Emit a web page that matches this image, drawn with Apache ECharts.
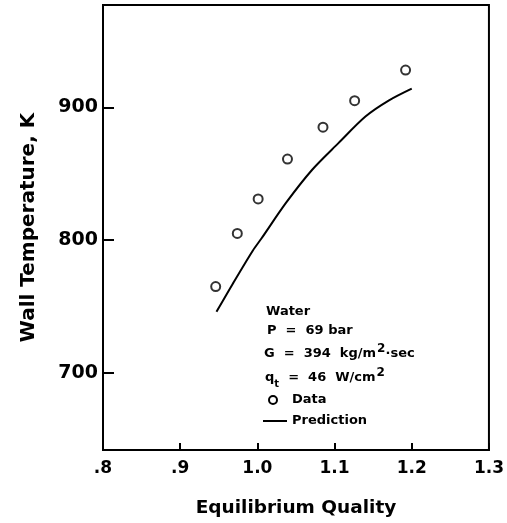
<!DOCTYPE html>
<html>
<head>
<meta charset="utf-8">
<script src="https://cdn.jsdelivr.net/npm/echarts@6/dist/echarts.min.js"></script>
<style>
  html, body { margin: 0; padding: 0; background: #fff; }
  #chart { width: 507px; height: 523px; }
</style>
</head>
<body>
<div id="chart"></div>
<script>
// measured data (circles)
const dataQuality = [0.946, 0.974, 1.001, 1.039, 1.085, 1.126, 1.192];
const dataTemp = [765, 805, 831, 861, 885, 905, 928];

// prediction curve
const predQuality = [0.947, 0.968, 0.994, 1.005, 1.037, 1.071, 1.105, 1.140, 1.170, 1.200];
const predTemp = [746, 767, 792, 801, 828, 853, 873, 893, 905, 914];

// ticks
const xTicks = [0.8, 0.9, 1.0, 1.1, 1.2, 1.3];
const xTickLabels = ['.8', '.9', '1.0', '1.1', '1.2', '1.3'];
const yTicks = [700, 800, 900];

// annotation block text
const noteLines = [
  '{a|Water}',
  '{a|P  =  69 bar}',
  '{a|G  =  394  kg/m}{sup|2}{a|·sec}',
  '{a|q}{sub|t}{a|  =  46  W/cm}{sup|2}',
  '{a|Data}',
  '{a|Prediction}'
];

const ink = '#000';
const font = 'DejaVu Sans';
const chart = echarts.init(document.getElementById('chart'));

const richStyle = {
  a: { fontFamily: font, fontWeight: 'bold', fontSize: 13, color: ink },
  sup: { fontFamily: font, fontWeight: 'bold', fontSize: 12, color: ink, verticalAlign: 'top', padding: [0, 0, 10, 1] },
  sub: { fontFamily: font, fontWeight: 'bold', fontSize: 10, color: ink, verticalAlign: 'bottom', padding: [6, 0, 0, 0] }
};
const noteTops = [305, 324, 343, 367, 393, 414];
const noteLefts = [266, 267, 264, 265, 292, 292];

const graphics = noteLines.map((t, i) => ({
  type: 'text',
  left: noteLefts[i],
  top: noteTops[i],
  style: { text: t, rich: richStyle }
}));
// legend symbols
graphics.push({
  type: 'circle',
  shape: { cx: 273, cy: 400, r: 4 },
  style: { fill: '#fff', stroke: ink, lineWidth: 2 }
});
graphics.push({
  type: 'line',
  shape: { x1: 263, y1: 421, x2: 287, y2: 421 },
  style: { stroke: ink, lineWidth: 2 }
});

chart.setOption({
  animation: false,
  grid: {
    left: 103, right: 16, top: 5, bottom: 73,
    show: true, borderColor: ink, borderWidth: 2, backgroundColor: 'transparent'
  },
  xAxis: {
    type: 'value',
    min: 0.8, max: 1.3,
    name: 'Equilibrium Quality',
    nameLocation: 'middle',
    nameGap: 49,
    nameTextStyle: { fontFamily: font, fontWeight: 'bold', fontSize: 18.5, color: ink },
    axisLine: { show: true, lineStyle: { color: ink, width: 2 } },
    axisTick: { inside: true, length: 7, customValues: xTicks, lineStyle: { color: ink, width: 2 } },
    axisLabel: {
      customValues: xTicks,
      margin: 10,
      fontFamily: font, fontWeight: 'bold', fontSize: 17, color: ink,
      formatter: v => xTickLabels[xTicks.findIndex(t => Math.abs(t - v) < 1e-6)]
    },
    splitLine: { show: false }
  },
  yAxis: {
    type: 'value',
    min: 642, max: 977,
    name: 'Wall Temperature, K',
    nameLocation: 'middle',
    nameGap: 64,
    nameTextStyle: { fontFamily: font, fontWeight: 'bold', fontSize: 20, color: ink },
    axisLine: { show: true, lineStyle: { color: ink, width: 2 } },
    axisTick: { inside: true, length: 11, customValues: yTicks, lineStyle: { color: ink, width: 2 } },
    axisLabel: {
      customValues: yTicks,
      margin: 5,
      fontFamily: font, fontWeight: 'bold', fontSize: 19, color: ink
    },
    splitLine: { show: false }
  },
  graphic: graphics,
  series: [
    {
      name: 'Data',
      type: 'scatter',
      symbol: 'emptyCircle',
      symbolSize: 9,
      itemStyle: { color: ink, borderWidth: 2 },
      data: dataQuality.map((q, i) => [q, dataTemp[i]])
    },
    {
      name: 'Prediction',
      type: 'line',
      smooth: 0.3,
      symbol: 'none',
      lineStyle: { color: ink, width: 2 },
      data: predQuality.map((q, i) => [q, predTemp[i]])
    }
  ]
});
</script>
</body>
</html>
